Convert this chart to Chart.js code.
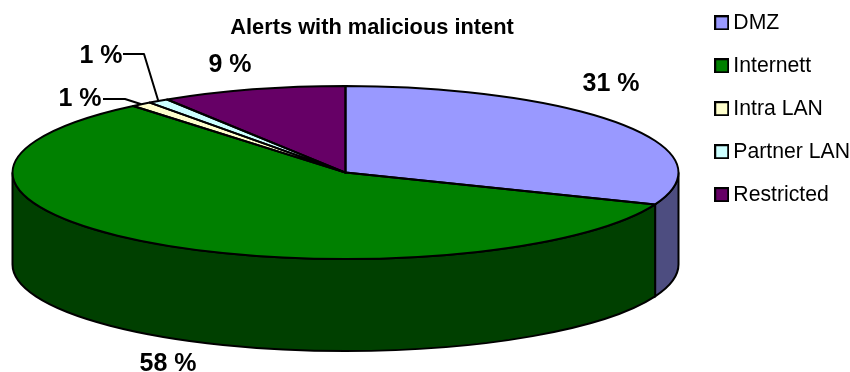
<!DOCTYPE html>
<html>
<head>
<meta charset="utf-8">
<title>Alerts with malicious intent</title>
<script src="https://cdn.jsdelivr.net/npm/chart.js@4"></script>
<style>
  html, body { margin: 0; padding: 0; background: #fff; }
  canvas { display: block; }
</style>
</head>
<body>
<canvas id="chart" width="850" height="372"></canvas>
<script>
const categories = ['DMZ', 'Internett', 'Intra LAN', 'Partner LAN', 'Restricted'];
const percents = [31, 58, 1, 1, 9];
const topColors = ['#9999FF', '#008000', '#FFFFCC', '#CCFFFF', '#660066'];
const sideColors = ['#4D4D80', '#004000', '#808066', '#668080', '#330033'];

const SQUASH = 86.5 / 333;  // tilt of the disc
const DEPTH = 92;           // height of the wall
const OUTLINE = 2;

Chart.defaults.font.family = '"Liberation Sans", Arial, sans-serif';
Chart.defaults.color = '#000';

// legend swatch, passed to the legend as a point style so it sits close to its text
function swatch(color) {
  const c = document.createElement('canvas');
  c.width = 15;
  c.height = 15;
  const g = c.getContext('2d');
  g.fillStyle = color;
  g.fillRect(1, 1, 13, 13);
  g.strokeStyle = '#000';
  g.lineWidth = 2;
  g.strokeRect(1, 1, 13, 13);
  return c;
}

// Chart.js has no 3D pie: flatten the arcs and build the wall around them
const tiltedPie = {
  id: 'tiltedPie',
  afterLayout(chart) {
    // nudge the boxes the layout can't place: legend up, title and pie sideways
    chart.legend.top -= 9.5;
    chart.titleBlock.left += 45;
    chart.chartArea.right -= 8;
  },
  beforeDatasetsDraw(chart) {
    const ctx = chart.ctx;
    ctx.save();
    ctx.lineWidth = OUTLINE;
    ctx.strokeStyle = '#000';
    chart.getDatasetMeta(0).data.forEach((arc, i) => {
      const a = Math.max(arc.startAngle, 0);
      const b = Math.min(arc.endAngle, Math.PI);
      if (a >= b) return;
      const ry = arc.outerRadius * SQUASH;
      ctx.beginPath();
      ctx.ellipse(arc.x, arc.y, arc.outerRadius, ry, 0, a, b);
      ctx.ellipse(arc.x, arc.y + DEPTH, arc.outerRadius, ry, 0, b, a, true);
      ctx.closePath();
      ctx.fillStyle = sideColors[i];
      ctx.fill();
      ctx.stroke();
    });
    ctx.restore();
  },
  beforeDatasetDraw(chart) {
    const arc = chart.getDatasetMeta(0).data[0];
    const ctx = chart.ctx;
    ctx.save();
    ctx.translate(arc.x, arc.y);
    ctx.scale(1, SQUASH);
    ctx.translate(-arc.x, -arc.y);
  },
  afterDatasetDraw(chart) {
    chart.ctx.restore();
  },
  afterDatasetsDraw(chart, args, opts) {
    const ctx = chart.ctx;
    const arcs = chart.getDatasetMeta(0).data;
    ctx.save();
    ctx.lineWidth = OUTLINE;
    ctx.strokeStyle = '#000';
    ctx.lineJoin = 'round';

    // slice outlines keep an even width, so they are stroked after the flattening
    arcs.forEach(arc => {
      ctx.beginPath();
      ctx.moveTo(arc.x, arc.y);
      ctx.ellipse(arc.x, arc.y, arc.outerRadius, arc.outerRadius * SQUASH, 0, arc.startAngle, arc.endAngle);
      ctx.closePath();
      ctx.stroke();
    });

    // leader lines for the two thin slices
    opts.leaders.forEach(l => {
      const arc = arcs[l.slice];
      const mid = (arc.startAngle + arc.endAngle) / 2;
      ctx.beginPath();
      ctx.moveTo(l.from[0], l.from[1]);
      ctx.lineTo(l.elbow[0], l.elbow[1]);
      ctx.lineTo(arc.x + Math.cos(mid) * arc.outerRadius, arc.y + Math.sin(mid) * arc.outerRadius * SQUASH);
      ctx.stroke();
    });

    // value labels
    ctx.fillStyle = '#000';
    ctx.font = 'bold 25px "Liberation Sans", Arial, sans-serif';
    ctx.textAlign = 'center';
    ctx.textBaseline = 'middle';
    percents.forEach((p, i) => {
      ctx.fillText(p + ' %', opts.labelAt[i][0], opts.labelAt[i][1]);
    });
    ctx.restore();
  }
};

new Chart('chart', {
  type: 'pie',
  data: {
    labels: categories,
    datasets: [{
      data: percents,
      backgroundColor: topColors,
      borderWidth: 0,
      radius: 333,
      clip: false
    }]
  },
  options: {
    responsive: false,
    animation: false,
    events: [],
    layout: { padding: { bottom: 76 } },
    plugins: {
      title: {
        display: true,
        text: 'Alerts with malicious intent',
        fullSize: false,
        font: { size: 21.8, weight: 'bold' },
        color: '#000',
        padding: { top: 15, bottom: 8 }
      },
      legend: {
        position: 'right',
        align: 'start',
        maxWidth: 151,
        labels: {
          usePointStyle: true,
          pointStyleWidth: 2,
          padding: 21.75,
          color: '#000',
          font: { size: 21.2 },
          generateLabels: () => categories.map((name, i) => ({
            text: name,
            pointStyle: swatch(topColors[i]),
            hidden: false,
            index: i
          }))
        }
      },
      tooltip: { enabled: false },
      tiltedPie: {
        labelAt: [[611, 84], [168, 364], [101, 56], [80, 99], [230, 65]],
        leaders: [
          { slice: 2, from: [103, 99], elbow: [125, 99] },
          { slice: 3, from: [123, 54], elbow: [144, 54] }
        ]
      }
    }
  },
  plugins: [tiltedPie]
});
</script>
</body>
</html>
